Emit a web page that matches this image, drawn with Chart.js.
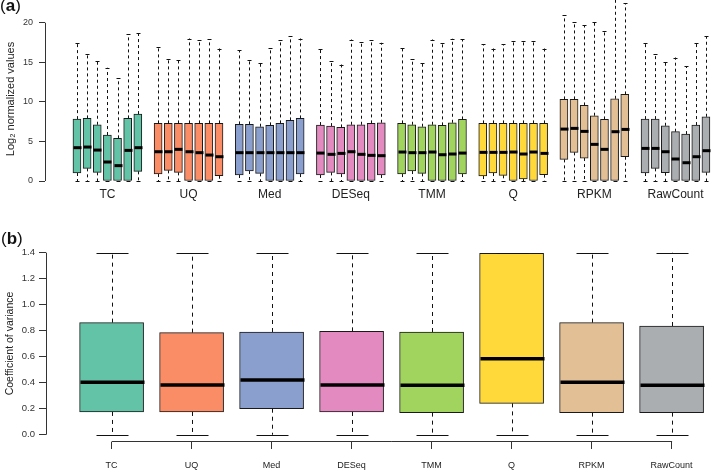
<html>
<script src="https://cdn.jsdelivr.net/npm/chart.js@4.4.0/dist/chart.umd.min.js"></script>
<body style="margin:0; background:#fff;">
<div style="position:relative; width:720px; height:475px; overflow:hidden;">
    <div style="position:absolute; left:0; top:0; width:720px; height:210px;"><canvas id="chartA"></canvas></div>
    <div style="position:absolute; left:0; top:210px; width:720px; height:265px;"><canvas id="chartB"></canvas></div>
    <div style="position:absolute; left:0; top:-3px; font:17px/17px 'Liberation Sans', Arial; color:#111;">(<b>a</b>)</div>
    <div style="position:absolute; left:1px; top:230px; font:17px/17px 'Liberation Sans', Arial; color:#111;">(<b>b</b>)</div>
</div>
</body>
<script>
    // methods (groups) and their fill colours
    var methods = ['TC', 'UQ', 'Med', 'DESeq', 'TMM', 'Q', 'RPKM', 'RawCount'];
    var methodColors = ['#62C3A6', '#FA8C66', '#8A9FCD', '#E38AC0', '#A1D45E', '#FFD83A', '#E2BF95', '#ABAEB1'];

    // panel (a): 7 samples per method, log2 normalized values
    var sampleMin = [
        [0, 0, 0, 0, 0, 0, 0],
        [0, 0, 0, 0, 0, 0, 0],
        [0, 0, 0, 0, 0, 0, 0],
        [0, 0, 0, 0, 0, 0, 0],
        [0, 0, 0, 0, 0, 0, 0],
        [0, 0, 0, 0, 0, 0, 0],
        [0, 0, 0, 0, 0, 0, 0],
        [0, 0, 0, 0, 0, 0, 0]
    ];
    var sampleQ1 = [
        [1.01, 1.60, 1.09, 0, 0, 0, 1.22],
        [0.88, 1.35, 1.09, 0, 0, 0, 0.67],
        [0.76, 1.26, 0.97, 0, 0, 0, 0.88],
        [0.76, 1.09, 0.88, 0, 0, 0, 0.76],
        [0.88, 1.26, 0.97, 0, 0, 0, 0.88],
        [0.63, 1.01, 0.72, 0, 0.25, 0, 0.80],
        [2.73, 3.62, 2.90, 0, 0, 0, 3.07],
        [1.01, 1.60, 1.05, 0, 0, 0, 1.09]
    ];
    var sampleMedian = [
        [4.21, 4.29, 3.91, 2.40, 1.94, 3.87, 4.21],
        [3.70, 3.70, 4.00, 3.70, 3.58, 3.28, 3.07],
        [3.58, 3.58, 3.58, 3.58, 3.58, 3.58, 3.58],
        [3.53, 3.37, 3.49, 3.70, 3.37, 3.24, 3.20],
        [3.66, 3.58, 3.58, 3.66, 3.32, 3.41, 3.53],
        [3.62, 3.62, 3.62, 3.66, 3.41, 3.66, 3.49],
        [6.56, 6.65, 6.27, 4.63, 4.00, 6.23, 6.52],
        [4.12, 4.12, 3.70, 2.78, 2.31, 3.07, 3.83]
    ];
    var sampleQ3 = [
        [7.82, 7.91, 7.11, 5.81, 5.39, 7.91, 8.46],
        [7.28, 7.28, 7.28, 7.28, 7.28, 7.28, 7.28],
        [7.15, 7.15, 6.86, 7.03, 7.28, 7.66, 7.91],
        [7.07, 6.94, 6.77, 7.11, 7.11, 7.28, 7.36],
        [7.28, 7.11, 6.86, 7.11, 7.03, 7.36, 7.78],
        [7.28, 7.28, 7.28, 7.28, 7.28, 7.28, 7.28],
        [10.31, 10.31, 9.55, 8.25, 7.78, 10.39, 10.94],
        [7.82, 7.82, 6.98, 6.23, 5.93, 7.07, 8.12]
    ];
    var sampleMax = [
        [17.46, 16.10, 15.15, 14.30, 12.96, 18.55, 18.64],
        [16.91, 15.48, 15.27, 18.00, 17.80, 17.92, 16.74],
        [16.53, 15.27, 14.93, 16.83, 17.80, 18.30, 18.00],
        [16.62, 15.15, 14.72, 17.88, 17.58, 17.80, 17.46],
        [16.87, 15.36, 14.85, 17.88, 17.50, 18.00, 17.92],
        [17.25, 16.74, 17.25, 17.71, 17.71, 17.71, 16.74],
        [20.95, 20.10, 19.69, 20.03, 18.93, 23.30, 22.50],
        [17.46, 16.10, 15.06, 15.60, 14.51, 17.46, 18.30]
    ];
    var yTicksA = [0, 5, 10, 15, 20];

    // panel (b): coefficient of variance per method
    var cvMin = [0, 0, 0, 0, 0, 0, 0, 0];
    var cvQ1 = [0.175, 0.175, 0.200, 0.175, 0.170, 0.241, 0.170, 0.170];
    var cvMedian = [0.403, 0.382, 0.421, 0.382, 0.380, 0.585, 0.403, 0.380];
    var cvQ3 = [0.862, 0.785, 0.790, 0.795, 0.790, 1.395, 0.862, 0.836];
    var cvMax = [1.40, 1.40, 1.40, 1.40, 1.40, 1.40, 1.40, 1.40];
    var yTicksB = [0, 0.2, 0.4, 0.6, 0.8, 1.0, 1.2, 1.4];

    Chart.defaults.font.family = "'Liberation Sans', Arial, sans-serif";
    Chart.defaults.color = '#222';

    // whiskers, caps, medians and the short R-style axis lines
    var boxParts = {
        id: 'boxParts',
        afterDatasetsDraw: function (chart, args, o) {
            var ctx = chart.ctx, xs = chart.scales.x, ys = chart.scales.y;
            function seg(x1, y1, x2, y2) {
                ctx.beginPath(); ctx.moveTo(x1, y1); ctx.lineTo(x2, y2); ctx.stroke();
            }
            ctx.save();
            ctx.strokeStyle = '#111';
            for (var k = 0; k < o.pos.length; k++) {
                var px = Math.round(xs.getPixelForValue(o.pos[k])) + 0.5;
                var yLo = ys.getPixelForValue(o.lo[k]), yQ1 = ys.getPixelForValue(o.q1[k]);
                var yQ3 = ys.getPixelForValue(o.q3[k]), yHi = ys.getPixelForValue(o.hi[k]);
                var yMed = ys.getPixelForValue(o.med[k]);
                ctx.lineWidth = 1;
                ctx.setLineDash(o.dash);
                if (yHi < yQ3 - 1) seg(px, yQ3, px, yHi);
                if (yLo > yQ1 + 1) seg(px, yQ1, px, yLo);
                ctx.setLineDash([]);
                seg(px - o.cap, Math.round(yHi) + 0.5, px + o.cap, Math.round(yHi) + 0.5);
                seg(px - o.cap, Math.round(yLo) + 0.5, px + o.cap, Math.round(yLo) + 0.5);
                ctx.strokeStyle = '#000';
                ctx.lineWidth = o.medWidth;
                seg(px - o.half, yMed, px + o.half, yMed);
                ctx.strokeStyle = '#111';
            }
            ctx.lineWidth = 1;
            ctx.strokeStyle = '#333';
            var left = Math.round(chart.chartArea.left) + 0.5;
            seg(left, ys.getPixelForValue(o.yAxis[0]), left, ys.getPixelForValue(o.yAxis[1]));
            if (o.xAxis) {
                var bottom = Math.round(chart.chartArea.bottom) - 0.5;
                seg(xs.getPixelForValue(o.xAxis[0]), bottom, xs.getPixelForValue(o.xAxis[1]) + 0.5, bottom);
            }
            ctx.restore();
        }
    };

    // ---------- panel (a) ----------
    var posA = [], loA = [], q1A = [], medA = [], q3A = [], hiA = [];
    var dsA = methods.map(function (m, g) {
        var data = [];
        for (var i = 0; i < sampleQ1[g].length; i++) {
            var p = g * 8 + i;
            data.push({ x: p, y: [sampleQ1[g][i], sampleQ3[g][i]] });
            posA.push(p); loA.push(sampleMin[g][i]); q1A.push(sampleQ1[g][i]);
            medA.push(sampleMedian[g][i]); q3A.push(sampleQ3[g][i]); hiA.push(sampleMax[g][i]);
        }
        return {
            label: m, data: data, backgroundColor: methodColors[g],
            borderColor: '#1a1a1a', borderWidth: 1, borderSkipped: false,
            barThickness: 8, grouped: false
        };
    });

    new Chart('chartA', {
        type: 'bar',
        data: { datasets: dsA },
        plugins: [boxParts],
        options: {
            responsive: true, maintainAspectRatio: false, animation: false,
            layout: { padding: { top: 13, right: 2, left: 0, bottom: 0 } },
            plugins: {
                legend: { display: false }, tooltip: { enabled: false },
                boxParts: { pos: posA, lo: loA, q1: q1A, med: medA, q3: q3A, hi: hiA,
                    dash: [3, 3], cap: 2, half: 4, medWidth: 3, yAxis: [0, 20] }
            },
            scales: {
                x: {
                    type: 'linear', min: -3.15, max: 63.19, offset: false,
                    grid: { display: false, drawTicks: false, offset: false },
                    border: { display: false },
                    afterBuildTicks: function (s) {
                        s.ticks = methods.map(function (m, g) { return { value: g * 8 + 3 }; });
                    },
                    afterFit: function (s) { s.height = 25; s.paddingLeft = 0; s.paddingRight = 0; },
                    ticks: {
                        autoSkip: false, maxRotation: 0, padding: 2, color: '#222',
                        font: { size: 12 },
                        callback: function (v, i) { return methods[i]; }
                    }
                },
                y: {
                    min: -0.505, max: 21.23,
                    grid: { drawOnChartArea: false, tickLength: 6, color: '#333' },
                    border: { display: false },
                    afterBuildTicks: function (s) {
                        s.ticks = yTicksA.map(function (v) { return { value: v }; });
                    },
                    afterFit: function (s) { s.width = 45; s.paddingTop = 0; s.paddingBottom = 0; },
                    ticks: { padding: 6, color: '#333', font: { size: 9 },
                        callback: function (v) { return String(v); } },
                    title: { display: true, text: 'Log\u2082 normalized values', color: '#222',
                        font: { size: 11 }, padding: { top: 4, bottom: 0 } }
                }
            }
        }
    });

    // ---------- panel (b) ----------
    var posB = methods.map(function (m, g) { return g + 1; });
    var dsB = [{
        label: 'CV',
        data: methods.map(function (m, g) { return { x: g + 1, y: [cvQ1[g], cvQ3[g]] }; }),
        backgroundColor: methodColors,
        borderColor: '#1a1a1a', borderWidth: 1, borderSkipped: false,
        barThickness: 64, grouped: false
    }];

    new Chart('chartB', {
        type: 'bar',
        data: { datasets: dsB },
        plugins: [boxParts],
        options: {
            responsive: true, maintainAspectRatio: false, animation: false,
            layout: { padding: { top: 35, right: 2, left: 0, bottom: 0 } },
            plugins: {
                legend: { display: false }, tooltip: { enabled: false },
                boxParts: { pos: posB, lo: cvMin, q1: cvQ1, med: cvMedian, q3: cvQ3, hi: cvMax,
                    dash: [4, 4], cap: 16, half: 32, medWidth: 3.5, yAxis: [0, 1.4], xAxis: [1, 8] }
            },
            scales: {
                x: {
                    type: 'linear', min: 0.18, max: 8.58, offset: false,
                    grid: { drawOnChartArea: false, tickLength: 7, color: '#333', offset: false },
                    border: { display: false },
                    afterBuildTicks: function (s) {
                        s.ticks = posB.map(function (v) { return { value: v }; });
                    },
                    afterFit: function (s) { s.height = 33; s.paddingLeft = 0; s.paddingRight = 0; },
                    ticks: {
                        autoSkip: false, maxRotation: 0, padding: 11, color: '#222',
                        font: { size: 9 },
                        callback: function (v, i) { return methods[i]; }
                    }
                },
                y: {
                    min: -0.056, max: 1.459,
                    grid: { drawOnChartArea: false, tickLength: 7, color: '#333' },
                    border: { display: false },
                    afterBuildTicks: function (s) {
                        s.ticks = yTicksB.map(function (v) { return { value: v }; });
                    },
                    afterFit: function (s) { s.width = 46; s.paddingTop = 0; s.paddingBottom = 0; },
                    ticks: { padding: 4, color: '#333', font: { size: 9.5 },
                        callback: function (v) { return v.toFixed(1); } },
                    title: { display: true, text: 'Coefficient of variance', color: '#222',
                        font: { size: 10.5 }, padding: { top: 4, bottom: 0 } }
                }
            }
        }
    });
</script>
</html>
